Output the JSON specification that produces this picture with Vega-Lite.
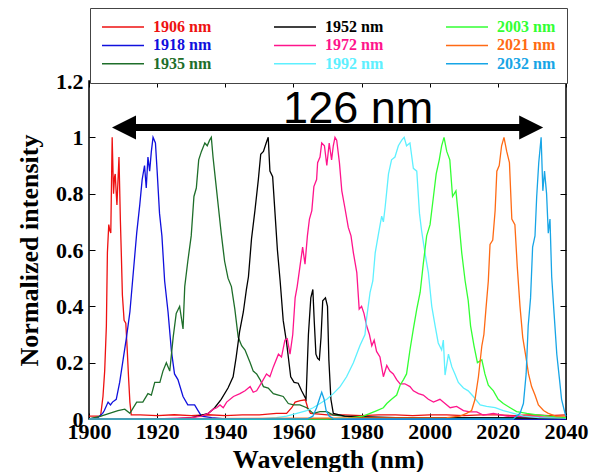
{
  "$schema": "https://vega.github.io/schema/vega-lite/v6.json",
  "autosize": "none",
  "width": 477,
  "height": 338,
  "padding": {"left": 89, "top": 81, "right": 33, "bottom": 53},
  "background": "white",
  "config": {
    "view": {"stroke": "#000", "strokeWidth": 1.5},
    "axis": {"grid": false, "domain": false, "tickColor": "#000", "tickWidth": 1, "labelColor": "#000", "titleColor": "#000"}
  },
  "datasets": {
    "spec": [
      {"s":"1906 nm","x":1900,"y":0.01},{"s":"1906 nm","x":1902,"y":0.01},{"s":"1906 nm","x":1903.4,"y":0.01},{"s":"1906 nm","x":1904.1,"y":0.08},{"s":"1906 nm","x":1904.6,"y":0.17},{"s":"1906 nm","x":1905.1,"y":0.33},{"s":"1906 nm","x":1905.4,"y":0.59},{"s":"1906 nm","x":1905.8,"y":0.69},{"s":"1906 nm","x":1906.1,"y":0.67},{"s":"1906 nm","x":1906.4,"y":0.66},{"s":"1906 nm","x":1906.8,"y":1.0},{"s":"1906 nm","x":1907.2,"y":0.8},{"s":"1906 nm","x":1907.5,"y":0.86},{"s":"1906 nm","x":1907.7,"y":0.87},{"s":"1906 nm","x":1908.0,"y":0.8},{"s":"1906 nm","x":1908.2,"y":0.76},{"s":"1906 nm","x":1908.8,"y":0.93},{"s":"1906 nm","x":1909.2,"y":0.71},{"s":"1906 nm","x":1909.5,"y":0.58},{"s":"1906 nm","x":1909.8,"y":0.44},{"s":"1906 nm","x":1910.3,"y":0.35},{"s":"1906 nm","x":1910.8,"y":0.34},{"s":"1906 nm","x":1911.2,"y":0.25},{"s":"1906 nm","x":1911.6,"y":0.15},{"s":"1906 nm","x":1912.0,"y":0.06},{"s":"1906 nm","x":1912.4,"y":0.015},{"s":"1906 nm","x":1915,"y":0.015},{"s":"1906 nm","x":1920,"y":0.012},{"s":"1906 nm","x":1925,"y":0.015},{"s":"1906 nm","x":1930,"y":0.012},{"s":"1906 nm","x":1935,"y":0.015},{"s":"1906 nm","x":1940,"y":0.012},{"s":"1906 nm","x":1945,"y":0.015},{"s":"1906 nm","x":1950,"y":0.015},{"s":"1906 nm","x":1955,"y":0.02},{"s":"1906 nm","x":1958,"y":0.02},{"s":"1906 nm","x":1959.5,"y":0.04},{"s":"1906 nm","x":1960.5,"y":0.06},{"s":"1906 nm","x":1962,"y":0.065},{"s":"1906 nm","x":1963.5,"y":0.068},{"s":"1906 nm","x":1964.2,"y":0.04},{"s":"1906 nm","x":1965,"y":0.02},{"s":"1906 nm","x":1970,"y":0.015},{"s":"1906 nm","x":1975,"y":0.015},{"s":"1906 nm","x":1980,"y":0.012},{"s":"1906 nm","x":1985,"y":0.015},{"s":"1906 nm","x":1990,"y":0.015},{"s":"1906 nm","x":1995,"y":0.012},{"s":"1906 nm","x":2000,"y":0.015},{"s":"1906 nm","x":2005,"y":0.015},{"s":"1906 nm","x":2010,"y":0.012},{"s":"1906 nm","x":2015,"y":0.015},{"s":"1906 nm","x":2020,"y":0.015},{"s":"1906 nm","x":2025,"y":0.012},{"s":"1906 nm","x":2030,"y":0.015},{"s":"1906 nm","x":2035,"y":0.012},{"s":"1906 nm","x":2040,"y":0.015},

      {"s":"1918 nm","x":1900,"y":0.0},{"s":"1918 nm","x":1902.6,"y":0.005},{"s":"1918 nm","x":1904,"y":0.02},{"s":"1918 nm","x":1904.5,"y":0.03},{"s":"1918 nm","x":1905.6,"y":0.06},{"s":"1918 nm","x":1906.3,"y":0.05},{"s":"1918 nm","x":1906.9,"y":0.06},{"s":"1918 nm","x":1908,"y":0.07},{"s":"1918 nm","x":1909,"y":0.13},{"s":"1918 nm","x":1910,"y":0.21},{"s":"1918 nm","x":1911,"y":0.29},{"s":"1918 nm","x":1912,"y":0.38},{"s":"1918 nm","x":1913,"y":0.52},{"s":"1918 nm","x":1914,"y":0.66},{"s":"1918 nm","x":1914.9,"y":0.76},{"s":"1918 nm","x":1915.6,"y":0.85},{"s":"1918 nm","x":1916.3,"y":0.9},{"s":"1918 nm","x":1916.8,"y":0.82},{"s":"1918 nm","x":1917.3,"y":0.93},{"s":"1918 nm","x":1917.8,"y":0.88},{"s":"1918 nm","x":1918.3,"y":0.95},{"s":"1918 nm","x":1918.8,"y":1.0},{"s":"1918 nm","x":1919.5,"y":0.98},{"s":"1918 nm","x":1920,"y":0.88},{"s":"1918 nm","x":1920.7,"y":0.73},{"s":"1918 nm","x":1921.4,"y":0.65},{"s":"1918 nm","x":1922.2,"y":0.49},{"s":"1918 nm","x":1923.2,"y":0.38},{"s":"1918 nm","x":1924.2,"y":0.24},{"s":"1918 nm","x":1925.1,"y":0.16},{"s":"1918 nm","x":1926.1,"y":0.14},{"s":"1918 nm","x":1927.6,"y":0.08},{"s":"1918 nm","x":1929,"y":0.05},{"s":"1918 nm","x":1931,"y":0.05},{"s":"1918 nm","x":1932,"y":0.03},{"s":"1918 nm","x":1933,"y":0.01},{"s":"1918 nm","x":1936,"y":0.005},{"s":"1918 nm","x":1940,"y":0.0},{"s":"1918 nm","x":2040,"y":0.0},

      {"s":"1935 nm","x":1900,"y":0.0},{"s":"1935 nm","x":1903.5,"y":0.01},{"s":"1935 nm","x":1906,"y":0.02},{"s":"1935 nm","x":1908.5,"y":0.03},{"s":"1935 nm","x":1910.5,"y":0.035},{"s":"1935 nm","x":1912,"y":0.02},{"s":"1935 nm","x":1914,"y":0.06},{"s":"1935 nm","x":1915.8,"y":0.06},{"s":"1935 nm","x":1917.3,"y":0.09},{"s":"1935 nm","x":1918.3,"y":0.085},{"s":"1935 nm","x":1919.3,"y":0.13},{"s":"1935 nm","x":1920.8,"y":0.13},{"s":"1935 nm","x":1921.7,"y":0.17},{"s":"1935 nm","x":1922.7,"y":0.2},{"s":"1935 nm","x":1923.7,"y":0.17},{"s":"1935 nm","x":1924.7,"y":0.29},{"s":"1935 nm","x":1925.6,"y":0.375},{"s":"1935 nm","x":1926.6,"y":0.4},{"s":"1935 nm","x":1927.6,"y":0.32},{"s":"1935 nm","x":1928.1,"y":0.47},{"s":"1935 nm","x":1929,"y":0.56},{"s":"1935 nm","x":1930,"y":0.65},{"s":"1935 nm","x":1930.8,"y":0.79},{"s":"1935 nm","x":1931.5,"y":0.82},{"s":"1935 nm","x":1932.2,"y":0.92},{"s":"1935 nm","x":1933,"y":0.95},{"s":"1935 nm","x":1934,"y":0.98},{"s":"1935 nm","x":1934.7,"y":0.97},{"s":"1935 nm","x":1935.4,"y":0.99},{"s":"1935 nm","x":1935.9,"y":1.0},{"s":"1935 nm","x":1936.4,"y":0.93},{"s":"1935 nm","x":1937.2,"y":0.84},{"s":"1935 nm","x":1938,"y":0.75},{"s":"1935 nm","x":1938.8,"y":0.66},{"s":"1935 nm","x":1939.8,"y":0.56},{"s":"1935 nm","x":1940.8,"y":0.5},{"s":"1935 nm","x":1941.8,"y":0.47},{"s":"1935 nm","x":1942.8,"y":0.39},{"s":"1935 nm","x":1943.8,"y":0.29},{"s":"1935 nm","x":1944.8,"y":0.26},{"s":"1935 nm","x":1945.8,"y":0.245},{"s":"1935 nm","x":1947.3,"y":0.2},{"s":"1935 nm","x":1948.2,"y":0.17},{"s":"1935 nm","x":1949.2,"y":0.16},{"s":"1935 nm","x":1950.2,"y":0.14},{"s":"1935 nm","x":1951.2,"y":0.115},{"s":"1935 nm","x":1952.6,"y":0.11},{"s":"1935 nm","x":1954.1,"y":0.09},{"s":"1935 nm","x":1955.6,"y":0.085},{"s":"1935 nm","x":1957,"y":0.08},{"s":"1935 nm","x":1958.5,"y":0.055},{"s":"1935 nm","x":1960,"y":0.05},{"s":"1935 nm","x":1961.9,"y":0.05},{"s":"1935 nm","x":1963.9,"y":0.04},{"s":"1935 nm","x":1965.8,"y":0.02},{"s":"1935 nm","x":1967.8,"y":0.026},{"s":"1935 nm","x":1969.8,"y":0.026},{"s":"1935 nm","x":1971.7,"y":0.014},{"s":"1935 nm","x":1975,"y":0.01},{"s":"1935 nm","x":1980,"y":0.005},{"s":"1935 nm","x":2040,"y":0.003},

      {"s":"1952 nm","x":1900,"y":0.0},{"s":"1952 nm","x":1925,"y":0.0},{"s":"1952 nm","x":1930,"y":0.005},{"s":"1952 nm","x":1932,"y":0.01},{"s":"1952 nm","x":1935,"y":0.02},{"s":"1952 nm","x":1936.9,"y":0.04},{"s":"1952 nm","x":1938.8,"y":0.07},{"s":"1952 nm","x":1940.8,"y":0.11},{"s":"1952 nm","x":1942.3,"y":0.15},{"s":"1952 nm","x":1943.2,"y":0.22},{"s":"1952 nm","x":1944.2,"y":0.31},{"s":"1952 nm","x":1945.3,"y":0.38},{"s":"1952 nm","x":1946.2,"y":0.46},{"s":"1952 nm","x":1946.8,"y":0.505},{"s":"1952 nm","x":1947.7,"y":0.64},{"s":"1952 nm","x":1948.7,"y":0.74},{"s":"1952 nm","x":1949.7,"y":0.85},{"s":"1952 nm","x":1950.4,"y":0.94},{"s":"1952 nm","x":1951.2,"y":0.95},{"s":"1952 nm","x":1952,"y":0.98},{"s":"1952 nm","x":1952.6,"y":1.0},{"s":"1952 nm","x":1953.1,"y":0.88},{"s":"1952 nm","x":1953.9,"y":0.86},{"s":"1952 nm","x":1954.6,"y":0.73},{"s":"1952 nm","x":1955.3,"y":0.6},{"s":"1952 nm","x":1956.1,"y":0.49},{"s":"1952 nm","x":1957.0,"y":0.35},{"s":"1952 nm","x":1958.0,"y":0.27},{"s":"1952 nm","x":1958.5,"y":0.22},{"s":"1952 nm","x":1959.2,"y":0.15},{"s":"1952 nm","x":1960.2,"y":0.13},{"s":"1952 nm","x":1961.4,"y":0.127},{"s":"1952 nm","x":1962.4,"y":0.1},{"s":"1952 nm","x":1963.7,"y":0.07},{"s":"1952 nm","x":1964.4,"y":0.3},{"s":"1952 nm","x":1965.1,"y":0.43},{"s":"1952 nm","x":1965.7,"y":0.46},{"s":"1952 nm","x":1966.1,"y":0.35},{"s":"1952 nm","x":1966.6,"y":0.23},{"s":"1952 nm","x":1967.1,"y":0.215},{"s":"1952 nm","x":1967.6,"y":0.21},{"s":"1952 nm","x":1968.1,"y":0.29},{"s":"1952 nm","x":1968.6,"y":0.42},{"s":"1952 nm","x":1969.4,"y":0.43},{"s":"1952 nm","x":1970.0,"y":0.4},{"s":"1952 nm","x":1970.4,"y":0.21},{"s":"1952 nm","x":1971.0,"y":0.07},{"s":"1952 nm","x":1971.7,"y":0.02},{"s":"1952 nm","x":1975,"y":0.01},{"s":"1952 nm","x":1980,"y":0.008},{"s":"1952 nm","x":1990,"y":0.005},{"s":"1952 nm","x":2040,"y":0.003},

      {"s":"1972 nm","x":1900,"y":0.0},{"s":"1972 nm","x":1920,"y":0.0},{"s":"1972 nm","x":1930,"y":0.005},{"s":"1972 nm","x":1933,"y":0.01},{"s":"1972 nm","x":1935,"y":0.02},{"s":"1972 nm","x":1936.5,"y":0.035},{"s":"1972 nm","x":1937.5,"y":0.04},{"s":"1972 nm","x":1938.45,"y":0.05},{"s":"1972 nm","x":1939.4,"y":0.04},{"s":"1972 nm","x":1940.4,"y":0.06},{"s":"1972 nm","x":1942.4,"y":0.08},{"s":"1972 nm","x":1944.3,"y":0.09},{"s":"1972 nm","x":1945.8,"y":0.1},{"s":"1972 nm","x":1947.3,"y":0.115},{"s":"1972 nm","x":1948.2,"y":0.095},{"s":"1972 nm","x":1949.2,"y":0.1},{"s":"1972 nm","x":1950.7,"y":0.13},{"s":"1972 nm","x":1952.1,"y":0.16},{"s":"1972 nm","x":1953.1,"y":0.15},{"s":"1972 nm","x":1954.1,"y":0.185},{"s":"1972 nm","x":1955.6,"y":0.23},{"s":"1972 nm","x":1956.5,"y":0.22},{"s":"1972 nm","x":1957.5,"y":0.28},{"s":"1972 nm","x":1958.2,"y":0.285},{"s":"1972 nm","x":1959,"y":0.23},{"s":"1972 nm","x":1959.8,"y":0.3},{"s":"1972 nm","x":1960.5,"y":0.43},{"s":"1972 nm","x":1961.1,"y":0.47},{"s":"1972 nm","x":1961.9,"y":0.54},{"s":"1972 nm","x":1962.7,"y":0.61},{"s":"1972 nm","x":1963.4,"y":0.55},{"s":"1972 nm","x":1964.1,"y":0.65},{"s":"1972 nm","x":1964.7,"y":0.71},{"s":"1972 nm","x":1965.4,"y":0.74},{"s":"1972 nm","x":1966.0,"y":0.825},{"s":"1972 nm","x":1966.8,"y":0.85},{"s":"1972 nm","x":1967.1,"y":0.91},{"s":"1972 nm","x":1967.8,"y":0.93},{"s":"1972 nm","x":1968.3,"y":0.98},{"s":"1972 nm","x":1969.1,"y":0.97},{"s":"1972 nm","x":1969.8,"y":0.9},{"s":"1972 nm","x":1970.5,"y":0.98},{"s":"1972 nm","x":1971.2,"y":0.92},{"s":"1972 nm","x":1971.7,"y":0.97},{"s":"1972 nm","x":1972.2,"y":1.0},{"s":"1972 nm","x":1972.7,"y":0.99},{"s":"1972 nm","x":1973.5,"y":0.91},{"s":"1972 nm","x":1974.2,"y":0.81},{"s":"1972 nm","x":1975.1,"y":0.75},{"s":"1972 nm","x":1976.1,"y":0.68},{"s":"1972 nm","x":1976.9,"y":0.65},{"s":"1972 nm","x":1977.6,"y":0.59},{"s":"1972 nm","x":1978.6,"y":0.52},{"s":"1972 nm","x":1979.3,"y":0.39},{"s":"1972 nm","x":1980,"y":0.4},{"s":"1972 nm","x":1980.7,"y":0.375},{"s":"1972 nm","x":1981.5,"y":0.33},{"s":"1972 nm","x":1982.3,"y":0.3},{"s":"1972 nm","x":1983,"y":0.26},{"s":"1972 nm","x":1983.7,"y":0.28},{"s":"1972 nm","x":1984.4,"y":0.24},{"s":"1972 nm","x":1985.4,"y":0.22},{"s":"1972 nm","x":1986.4,"y":0.15},{"s":"1972 nm","x":1987.4,"y":0.19},{"s":"1972 nm","x":1988.3,"y":0.17},{"s":"1972 nm","x":1989.3,"y":0.16},{"s":"1972 nm","x":1990.3,"y":0.14},{"s":"1972 nm","x":1991.3,"y":0.125},{"s":"1972 nm","x":1992.7,"y":0.125},{"s":"1972 nm","x":1994.2,"y":0.115},{"s":"1972 nm","x":1995.2,"y":0.1},{"s":"1972 nm","x":1996.7,"y":0.09},{"s":"1972 nm","x":1998.1,"y":0.085},{"s":"1972 nm","x":1999.6,"y":0.07},{"s":"1972 nm","x":2001.1,"y":0.06},{"s":"1972 nm","x":2003,"y":0.07},{"s":"1972 nm","x":2004.5,"y":0.055},{"s":"1972 nm","x":2006,"y":0.04},{"s":"1972 nm","x":2007.9,"y":0.045},{"s":"1972 nm","x":2009.9,"y":0.03},{"s":"1972 nm","x":2011.8,"y":0.025},{"s":"1972 nm","x":2013.8,"y":0.025},{"s":"1972 nm","x":2015.7,"y":0.014},{"s":"1972 nm","x":2018.7,"y":0.02},{"s":"1972 nm","x":2022.6,"y":0.01},{"s":"1972 nm","x":2030,"y":0.008},{"s":"1972 nm","x":2040,"y":0.005},

      {"s":"1992 nm","x":1900,"y":0.0},{"s":"1992 nm","x":1950,"y":0.0},{"s":"1992 nm","x":1955,"y":0.005},{"s":"1992 nm","x":1958,"y":0.01},{"s":"1992 nm","x":1961,"y":0.02},{"s":"1992 nm","x":1963.9,"y":0.03},{"s":"1992 nm","x":1965.8,"y":0.04},{"s":"1992 nm","x":1967.8,"y":0.055},{"s":"1992 nm","x":1969.8,"y":0.07},{"s":"1992 nm","x":1971.7,"y":0.09},{"s":"1992 nm","x":1973.7,"y":0.115},{"s":"1992 nm","x":1975.6,"y":0.15},{"s":"1992 nm","x":1977.6,"y":0.2},{"s":"1992 nm","x":1979.5,"y":0.26},{"s":"1992 nm","x":1981,"y":0.3},{"s":"1992 nm","x":1981.5,"y":0.36},{"s":"1992 nm","x":1982.5,"y":0.45},{"s":"1992 nm","x":1983.3,"y":0.49},{"s":"1992 nm","x":1984,"y":0.59},{"s":"1992 nm","x":1985,"y":0.66},{"s":"1992 nm","x":1985.9,"y":0.72},{"s":"1992 nm","x":1986.4,"y":0.7},{"s":"1992 nm","x":1986.9,"y":0.75},{"s":"1992 nm","x":1987.4,"y":0.81},{"s":"1992 nm","x":1987.9,"y":0.87},{"s":"1992 nm","x":1988.8,"y":0.92},{"s":"1992 nm","x":1989.8,"y":0.93},{"s":"1992 nm","x":1990.8,"y":0.97},{"s":"1992 nm","x":1991.8,"y":0.99},{"s":"1992 nm","x":1992.5,"y":1.0},{"s":"1992 nm","x":1993.2,"y":0.97},{"s":"1992 nm","x":1994.2,"y":0.98},{"s":"1992 nm","x":1995.2,"y":0.89},{"s":"1992 nm","x":1996.2,"y":0.88},{"s":"1992 nm","x":1997,"y":0.73},{"s":"1992 nm","x":1997.6,"y":0.67},{"s":"1992 nm","x":1998.6,"y":0.59},{"s":"1992 nm","x":1999.6,"y":0.52},{"s":"1992 nm","x":2000.6,"y":0.4},{"s":"1992 nm","x":2001.6,"y":0.33},{"s":"1992 nm","x":2002.5,"y":0.27},{"s":"1992 nm","x":2003.5,"y":0.245},{"s":"1992 nm","x":2004,"y":0.28},{"s":"1992 nm","x":2004.5,"y":0.156},{"s":"1992 nm","x":2005.5,"y":0.23},{"s":"1992 nm","x":2006.5,"y":0.185},{"s":"1992 nm","x":2007.4,"y":0.16},{"s":"1992 nm","x":2008.4,"y":0.13},{"s":"1992 nm","x":2009.9,"y":0.11},{"s":"1992 nm","x":2011.3,"y":0.1},{"s":"1992 nm","x":2012.8,"y":0.08},{"s":"1992 nm","x":2014.8,"y":0.05},{"s":"1992 nm","x":2016.7,"y":0.045},{"s":"1992 nm","x":2019.2,"y":0.04},{"s":"1992 nm","x":2021.6,"y":0.03},{"s":"1992 nm","x":2024.6,"y":0.02},{"s":"1992 nm","x":2027.5,"y":0.01},{"s":"1992 nm","x":2032,"y":0.005},{"s":"1992 nm","x":2040,"y":0.003},

      {"s":"2003 nm","x":1900,"y":0.0},{"s":"2003 nm","x":1970,"y":0.0},{"s":"2003 nm","x":1976,"y":0.003},{"s":"2003 nm","x":1980.5,"y":0.01},{"s":"2003 nm","x":1982.5,"y":0.02},{"s":"2003 nm","x":1984.5,"y":0.03},{"s":"2003 nm","x":1986.4,"y":0.04},{"s":"2003 nm","x":1987.4,"y":0.055},{"s":"2003 nm","x":1988.8,"y":0.07},{"s":"2003 nm","x":1990.3,"y":0.085},{"s":"2003 nm","x":1991.3,"y":0.12},{"s":"2003 nm","x":1992.3,"y":0.14},{"s":"2003 nm","x":1993.2,"y":0.16},{"s":"2003 nm","x":1994.2,"y":0.245},{"s":"2003 nm","x":1995.2,"y":0.32},{"s":"2003 nm","x":1996.2,"y":0.39},{"s":"2003 nm","x":1997.2,"y":0.45},{"s":"2003 nm","x":1998.1,"y":0.55},{"s":"2003 nm","x":1999.1,"y":0.65},{"s":"2003 nm","x":2000.1,"y":0.69},{"s":"2003 nm","x":2001.1,"y":0.79},{"s":"2003 nm","x":2001.9,"y":0.87},{"s":"2003 nm","x":2002.8,"y":0.92},{"s":"2003 nm","x":2003.5,"y":0.97},{"s":"2003 nm","x":2004.2,"y":1.0},{"s":"2003 nm","x":2005,"y":0.95},{"s":"2003 nm","x":2005.9,"y":0.92},{"s":"2003 nm","x":2006.7,"y":0.79},{"s":"2003 nm","x":2007.7,"y":0.81},{"s":"2003 nm","x":2008.5,"y":0.71},{"s":"2003 nm","x":2009.4,"y":0.59},{"s":"2003 nm","x":2010.4,"y":0.49},{"s":"2003 nm","x":2011.3,"y":0.42},{"s":"2003 nm","x":2012,"y":0.33},{"s":"2003 nm","x":2013,"y":0.26},{"s":"2003 nm","x":2014,"y":0.2},{"s":"2003 nm","x":2015.3,"y":0.21},{"s":"2003 nm","x":2016.2,"y":0.16},{"s":"2003 nm","x":2017.2,"y":0.12},{"s":"2003 nm","x":2018.7,"y":0.1},{"s":"2003 nm","x":2020.1,"y":0.07},{"s":"2003 nm","x":2021.6,"y":0.055},{"s":"2003 nm","x":2023.6,"y":0.04},{"s":"2003 nm","x":2025.5,"y":0.026},{"s":"2003 nm","x":2028.5,"y":0.02},{"s":"2003 nm","x":2031.5,"y":0.015},{"s":"2003 nm","x":2035,"y":0.01},{"s":"2003 nm","x":2040,"y":0.005},

      {"s":"2021 nm","x":1900,"y":0.0},{"s":"2021 nm","x":2005,"y":0.005},{"s":"2021 nm","x":2008.9,"y":0.01},{"s":"2021 nm","x":2010.8,"y":0.02},{"s":"2021 nm","x":2012.3,"y":0.03},{"s":"2021 nm","x":2013.3,"y":0.07},{"s":"2021 nm","x":2014.3,"y":0.15},{"s":"2021 nm","x":2015.3,"y":0.26},{"s":"2021 nm","x":2015.9,"y":0.3},{"s":"2021 nm","x":2016.5,"y":0.39},{"s":"2021 nm","x":2017.2,"y":0.49},{"s":"2021 nm","x":2017.7,"y":0.62},{"s":"2021 nm","x":2018.5,"y":0.635},{"s":"2021 nm","x":2019.2,"y":0.74},{"s":"2021 nm","x":2019.7,"y":0.88},{"s":"2021 nm","x":2020.4,"y":0.9},{"s":"2021 nm","x":2021.1,"y":0.97},{"s":"2021 nm","x":2021.8,"y":1.0},{"s":"2021 nm","x":2022.6,"y":0.95},{"s":"2021 nm","x":2023.4,"y":0.91},{"s":"2021 nm","x":2024.1,"y":0.71},{"s":"2021 nm","x":2025,"y":0.69},{"s":"2021 nm","x":2025.7,"y":0.54},{"s":"2021 nm","x":2026.5,"y":0.4},{"s":"2021 nm","x":2027.3,"y":0.29},{"s":"2021 nm","x":2028.1,"y":0.23},{"s":"2021 nm","x":2029,"y":0.16},{"s":"2021 nm","x":2029.9,"y":0.115},{"s":"2021 nm","x":2030.9,"y":0.085},{"s":"2021 nm","x":2031.9,"y":0.05},{"s":"2021 nm","x":2033.4,"y":0.03},{"s":"2021 nm","x":2034.8,"y":0.02},{"s":"2021 nm","x":2037,"y":0.01},{"s":"2021 nm","x":2040,"y":0.01},

      {"s":"2032 nm","x":1900,"y":0.0},{"s":"2032 nm","x":1964,"y":0.0},{"s":"2032 nm","x":1965.7,"y":0.01},{"s":"2032 nm","x":1966.8,"y":0.04},{"s":"2032 nm","x":1967.6,"y":0.07},{"s":"2032 nm","x":1968.3,"y":0.095},{"s":"2032 nm","x":1969.0,"y":0.07},{"s":"2032 nm","x":1969.6,"y":0.03},{"s":"2032 nm","x":1970.5,"y":0.01},{"s":"2032 nm","x":1972,"y":0.0},{"s":"2032 nm","x":2024.5,"y":0.0},{"s":"2032 nm","x":2026.5,"y":0.02},{"s":"2032 nm","x":2027.5,"y":0.055},{"s":"2032 nm","x":2028.3,"y":0.16},{"s":"2032 nm","x":2028.9,"y":0.33},{"s":"2032 nm","x":2029.6,"y":0.43},{"s":"2032 nm","x":2030.2,"y":0.61},{"s":"2032 nm","x":2030.9,"y":0.65},{"s":"2032 nm","x":2031.4,"y":0.79},{"s":"2032 nm","x":2032,"y":0.91},{"s":"2032 nm","x":2032.7,"y":1.0},{"s":"2032 nm","x":2033.2,"y":0.81},{"s":"2032 nm","x":2033.7,"y":0.88},{"s":"2032 nm","x":2034.3,"y":0.8},{"s":"2032 nm","x":2034.8,"y":0.66},{"s":"2032 nm","x":2035.3,"y":0.71},{"s":"2032 nm","x":2035.8,"y":0.505},{"s":"2032 nm","x":2036.5,"y":0.375},{"s":"2032 nm","x":2037.3,"y":0.23},{"s":"2032 nm","x":2038.1,"y":0.14},{"s":"2032 nm","x":2038.7,"y":0.07},{"s":"2032 nm","x":2039.7,"y":0.02},{"s":"2032 nm","x":2040,"y":0.01}
    ],
    "shaft": [{"xs": 1910, "xe": 2030, "ys": 1.035}],
    "heads": [{"xh": 1906.75, "yh": 1.035, "d": "L"}, {"xh": 2033.3, "yh": 1.035, "d": "R"}],
    "label": [{"xt": 1979, "yt": 1.05, "t": "126 nm"}]
  },
  "layer": [
    {
      "data": {"name": "spec"},
      "mark": {"type": "line", "strokeWidth": 1.3},
      "encoding": {
        "x": {"field": "x", "type": "quantitative",
              "scale": {"domain": [1900, 2040], "nice": false, "zero": false},
              "axis": {"orient": "bottom", "values": [1900,1920,1940,1960,1980,2000,2020,2040], "format": "d",
                       "tickSize": -6, "labelPadding": 8, "labelFont": "Liberation Serif", "labelFontWeight": "bold", "labelFontSize": 22,
                       "labelOverlap": false, "labelFlush": false,
                       "title": "Wavelength (nm)", "titleFont": "Liberation Serif", "titleFontWeight": "bold", "titleFontSize": 26,
                       "titleX": 239, "titleY": 48, "titleAlign": "center", "titleBaseline": "alphabetic"}},
        "y": {"field": "y", "type": "quantitative",
              "scale": {"domain": [0, 1.2], "nice": false},
              "axis": {"orient": "left", "values": [0,0.2,0.4,0.6,0.8,1,1.2], "format": "~g",
                       "tickSize": -6, "labelPadding": 12, "labelFont": "Liberation Serif", "labelFontWeight": "bold", "labelFontSize": 22,
                       "labelOverlap": false, "labelFlush": false,
                       "title": "Normalized intensity", "titleFont": "Liberation Serif", "titleFontWeight": "bold", "titleFontSize": 26,
                       "titleX": -60, "titleY": 169, "titleAngle": -90, "titleAlign": "center", "titleBaseline": "middle"}},
        "color": {"field": "s", "type": "nominal",
                  "scale": {"domain": ["1906 nm","1918 nm","1935 nm","1952 nm","1972 nm","1992 nm","2003 nm","2021 nm","2032 nm"],
                            "range": ["#ee1111","#1010dd","#1e6e2a","#000000","#ff148c","#5ef0ff","#33ff33","#ff6a14","#17a5e6"]},
                  "legend": {"orient": "none", "legendX": 1, "legendY": -73, "columns": 3, "title": null,
                             "symbolType": "M-3,0H3", "symbolSize": 196, "symbolOffset": 14, "symbolStrokeWidth": 1.5,
                             "labelOffset": 22, "labelFont": "Liberation Serif", "labelFontWeight": "bold", "labelFontSize": 16,
                             "labelColor": {"expr": "datum.label=='1906 nm'?'#ee1111':datum.label=='1952 nm'?'#000000':datum.label=='2003 nm'?'#33ff33':datum.label=='1918 nm'?'#1010dd':datum.label=='1972 nm'?'#ff148c':datum.label=='2021 nm'?'#ff6a14':datum.label=='1935 nm'?'#1e6e2a':datum.label=='1992 nm'?'#5ef0ff':'#17a5e6'"},
                             "columnPadding": 59, "rowPadding": 2.4, "padding": 11,
                             "strokeColor": "#444", "fillColor": "white"}}
      }
    },
    {
      "data": {"name": "shaft"},
      "mark": {"type": "rule", "strokeWidth": 7, "color": "#000"},
      "encoding": {
        "x": {"field": "xs", "type": "quantitative", "axis": null},
        "x2": {"field": "xe"},
        "y": {"field": "ys", "type": "quantitative", "axis": null}
      }
    },
    {
      "data": {"name": "heads"},
      "mark": {"type": "point", "filled": true, "color": "#000", "opacity": 1, "size": 576},
      "encoding": {
        "x": {"field": "xh", "type": "quantitative", "axis": null},
        "y": {"field": "yh", "type": "quantitative", "axis": null},
        "shape": {"field": "d", "type": "nominal", "legend": null,
                  "scale": {"domain": ["L","R"], "range": ["M0,0L2,-1L2,1Z", "M0,0L-2,-1L-2,1Z"]}}
      }
    },
    {
      "data": {"name": "label"},
      "mark": {"type": "text", "font": "Liberation Sans Narrow, Arial Narrow, Liberation Sans, sans-serif", "fontSize": 45, "align": "center", "baseline": "alphabetic", "color": "#000"},
      "encoding": {
        "x": {"field": "xt", "type": "quantitative", "axis": null},
        "y": {"field": "yt", "type": "quantitative", "axis": null},
        "text": {"field": "t"}
      }
    },
    {
      "data": {"name": "label"},
      "mark": {"type": "point", "opacity": 0},
      "encoding": {
        "x": {"field": "xt", "type": "quantitative",
              "axis": {"orient": "top", "values": [1900,1920,1940,1960,1980,2000,2020,2040], "labels": false, "tickSize": -6, "title": null}},
        "y": {"field": "yt", "type": "quantitative",
              "axis": {"orient": "right", "values": [0,0.2,0.4,0.6,0.8,1,1.2], "labels": false, "tickSize": -6, "title": null}}
      }
    }
  ],
  "resolve": {"axis": {"x": "independent", "y": "independent"}}
}
